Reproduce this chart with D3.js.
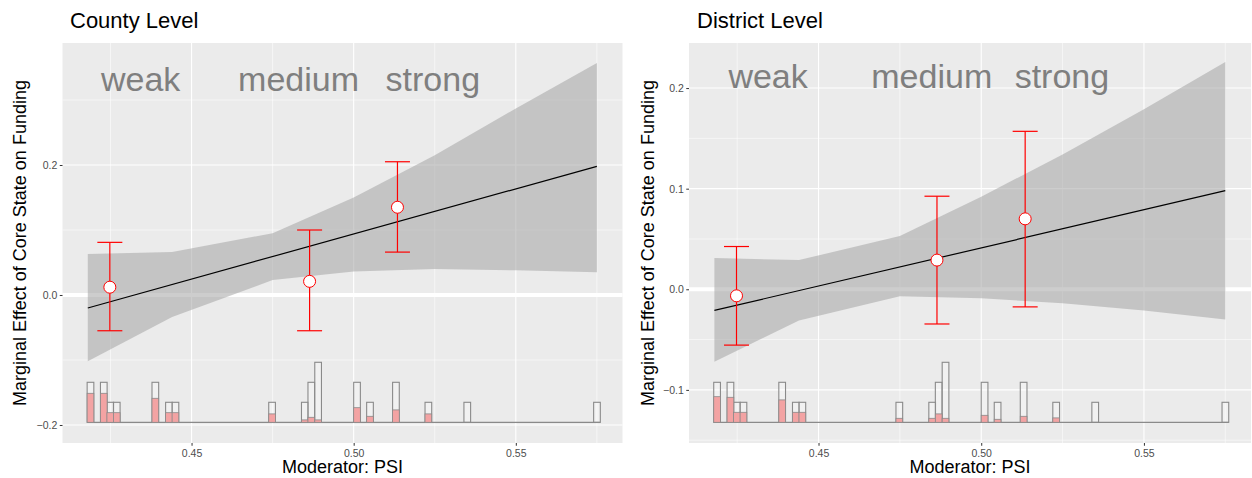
<!DOCTYPE html>
<html>
<head>
<meta charset="utf-8">
<script src="https://cdn.jsdelivr.net/npm/d3@7"></script>
<style>
  body { margin: 0; background: #fff; }
  text { font-family: "Liberation Sans", Arial, Helvetica, sans-serif; }
</style>
</head>
<body>
<script>
// ---- data ----
var xDomain = [0.4102, 0.5829];
var xTicks = [0.45, 0.50, 0.55];
var xMinor = [0.425, 0.475, 0.525, 0.575];

var groups = ["weak", "medium", "strong"];
var groupX = [0.4248, 0.4864, 0.5135];

// fitted line and confidence band
var fitX = [0.418, 0.575];
var bandX = [0.418, 0.444, 0.475, 0.500, 0.525, 0.550, 0.575];

var countyYDomain = [-0.2277, 0.3877];
var countyYTicks = [-0.2, 0.0, 0.2];
var countyYMinor = [-0.1, 0.1, 0.3];
var countyFit = [-0.020, 0.198];
var countyBandUpper = [0.063, 0.066, 0.095, 0.150, 0.215, 0.287, 0.357];
var countyBandLower = [-0.102, -0.034, 0.023, 0.036, 0.040, 0.038, 0.035];
var countyEst = [0.012, 0.021, 0.135];
var countyLow = [-0.055, -0.055, 0.066];
var countyHigh = [0.081, 0.100, 0.205];
var countyLabelX = [0.4343, 0.4830, 0.5244];
var countyLabelY = 0.332;

var districtYDomain = [-0.1528, 0.2448];
var districtYTicks = [-0.1, 0.0, 0.1, 0.2];
var districtYMinor = [-0.15, -0.05, 0.05, 0.15];
var districtFit = [-0.021, 0.098];
var districtBandUpper = [0.031, 0.029, 0.053, 0.092, 0.134, 0.179, 0.226];
var districtBandLower = [-0.072, -0.031, -0.007, -0.009, -0.014, -0.021, -0.030];
var districtEst = [-0.0065, 0.029, 0.070];
var districtLow = [-0.0555, -0.0345, -0.0175];
var districtHigh = [0.0425, 0.0925, 0.157];
var districtLabelX = [0.4345, 0.4848, 0.5248];
var districtLabelY = 0.2115;

// histogram of the moderator (bin starts, counts, treated share)
var binStart = [0.4178, 0.4219, 0.4239, 0.4259, 0.4378, 0.4420, 0.4440, 0.4738, 0.4839,
                0.4859, 0.4880, 0.5000, 0.5040, 0.5120, 0.5220, 0.5340, 0.5740];
var binCount = [2, 2, 1, 1, 2, 1, 1, 1, 1, 2, 3, 2, 1, 2, 1, 1, 1];
var countyTreated = [1.45, 1.45, 0.48, 0.48, 1.2, 0.48, 0.48, 0.42, 0.12, 0.25, 0.12, 0.73, 0.3, 0.62, 0.42, 0, 0];
var districtTreated = [1.28, 1.25, 0.5, 0.5, 1.12, 0.5, 0.5, 0.2, 0.2, 0.42, 0.2, 0.35, 0.15, 0.3, 0.22, 0, 0];
var binWidth = 0.00206;

function init() {
    var w = 1252, h = 478;

    var svg = d3.select("body")
                .append("svg")
                .attr("width", w)
                .attr("height", h);

    drawPanel(svg, {
        left: 62.5, width: 560, title: "County Level", titleX: 70, yTitleX: 26,
        yDomain: countyYDomain, yTicks: countyYTicks, yMinor: countyYMinor,
        fit: countyFit, upper: countyBandUpper, lower: countyBandLower,
        est: countyEst, lo: countyLow, hi: countyHigh, treated: countyTreated,
        labelX: countyLabelX, labelY: countyLabelY
    });

    drawPanel(svg, {
        left: 689, width: 562, title: "District Level", titleX: 697, yTitleX: 654,
        yDomain: districtYDomain, yTicks: districtYTicks, yMinor: districtYMinor,
        fit: districtFit, upper: districtBandUpper, lower: districtBandLower,
        est: districtEst, lo: districtLow, hi: districtHigh, treated: districtTreated,
        labelX: districtLabelX, labelY: districtLabelY
    });
}

function drawPanel(svg, p) {
    var top = 43, ph = 400, pw = p.width;

    var x = d3.scaleLinear().domain(xDomain).range([0, pw]);
    var y = d3.scaleLinear().domain(p.yDomain).range([ph, 0]);
    // histogram counts sit at the bottom of the panel
    var hy = d3.scaleLinear().domain([0, 1]).range([ph - 20.7, ph - 40.7]);

    var g = svg.append("g").attr("transform", "translate(" + p.left + "," + top + ")");

    g.append("rect")
     .attr("width", pw).attr("height", ph)
     .attr("fill", "#ebebeb");

    // grid
    g.selectAll(".xminor").data(xMinor).enter().append("line")
     .attr("x1", d => x(d)).attr("x2", d => x(d))
     .attr("y1", 0).attr("y2", ph)
     .attr("stroke", "#fff").attr("stroke-width", 0.55);
    g.selectAll(".yminor").data(p.yMinor).enter().append("line")
     .attr("x1", 0).attr("x2", pw)
     .attr("y1", d => y(d)).attr("y2", d => y(d))
     .attr("stroke", "#fff").attr("stroke-width", 0.55);
    g.selectAll(".xmajor").data(xTicks).enter().append("line")
     .attr("x1", d => x(d)).attr("x2", d => x(d))
     .attr("y1", 0).attr("y2", ph)
     .attr("stroke", "#fff").attr("stroke-width", 1.1);
    g.selectAll(".ymajor").data(p.yTicks).enter().append("line")
     .attr("x1", 0).attr("x2", pw)
     .attr("y1", d => y(d)).attr("y2", d => y(d))
     .attr("stroke", "#fff").attr("stroke-width", 1.1);

    // zero line
    g.append("line")
     .attr("x1", 0).attr("x2", pw)
     .attr("y1", y(0)).attr("y2", y(0))
     .attr("stroke", "#fff").attr("stroke-width", 4);

    // confidence band
    var band = bandX.map((v, i) => ({x: v, lo: p.lower[i], hi: p.upper[i]}));
    g.append("path")
     .datum(band)
     .attr("d", d3.area().x(d => x(d.x)).y0(d => y(d.lo)).y1(d => y(d.hi)))
     .attr("fill", "#a4a4a4")
     .attr("fill-opacity", 0.55);

    // fitted line
    g.append("path")
     .datum(fitX.map((v, i) => [v, p.fit[i]]))
     .attr("d", d3.line().x(d => x(d[0])).y(d => y(d[1])))
     .attr("fill", "none")
     .attr("stroke", "#000")
     .attr("stroke-width", 1.2);

    // histogram
    g.append("line")
     .attr("x1", x(binStart[0])).attr("x2", x(binStart[binStart.length - 1] + binWidth))
     .attr("y1", hy(0)).attr("y2", hy(0))
     .attr("stroke", "#8a8a8a").attr("stroke-width", 1.2);
    var bins = binStart.map((v, i) => ({x: v, n: binCount[i], t: p.treated[i]}));
    g.selectAll(".bar").data(bins).enter().append("rect")
     .attr("x", d => x(d.x))
     .attr("width", x(xDomain[0] + binWidth) - x(xDomain[0]))
     .attr("y", d => hy(d.n))
     .attr("height", d => hy(0) - hy(d.n))
     .attr("fill", "#ffffff").attr("fill-opacity", 0.3)
     .attr("stroke", "#8a8a8a").attr("stroke-width", 1.1);
    g.selectAll(".treat").data(bins.filter(d => d.t > 0)).enter().append("rect")
     .attr("x", d => x(d.x))
     .attr("width", x(xDomain[0] + binWidth) - x(xDomain[0]))
     .attr("y", d => hy(d.t))
     .attr("height", d => hy(0) - hy(d.t))
     .attr("fill", "#f3a3a3")
     .attr("stroke", "#8a8a8a").attr("stroke-width", 0.8);

    // binned estimates with error bars
    var pts = groups.map((k, i) => ({x: groupX[i], e: p.est[i], lo: p.lo[i], hi: p.hi[i]}));
    var eb = g.selectAll(".eb").data(pts).enter().append("g");
    eb.append("line")
      .attr("x1", d => x(d.x)).attr("x2", d => x(d.x))
      .attr("y1", d => y(d.lo)).attr("y2", d => y(d.hi))
      .attr("stroke", "#ff0000").attr("stroke-width", 1.2);
    eb.append("line")
      .attr("x1", d => x(d.x) - 12.5).attr("x2", d => x(d.x) + 12.5)
      .attr("y1", d => y(d.lo)).attr("y2", d => y(d.lo))
      .attr("stroke", "#ff0000").attr("stroke-width", 1.2);
    eb.append("line")
      .attr("x1", d => x(d.x) - 12.5).attr("x2", d => x(d.x) + 12.5)
      .attr("y1", d => y(d.hi)).attr("y2", d => y(d.hi))
      .attr("stroke", "#ff0000").attr("stroke-width", 1.2);
    eb.append("circle")
      .attr("cx", d => x(d.x)).attr("cy", d => y(d.e))
      .attr("r", 6)
      .attr("fill", "#fff")
      .attr("stroke", "#ff0000").attr("stroke-width", 1);

    // group labels
    g.selectAll(".lab").data(groups).enter().append("text")
     .attr("x", (d, i) => x(p.labelX[i]))
     .attr("y", y(p.labelY))
     .attr("dy", "0.35em")
     .attr("text-anchor", "middle")
     .attr("font-size", 34)
     .attr("fill", "#7f7f7f")
     .text(d => d);

    // axes
    var xAxis = g.append("g")
     .attr("transform", "translate(0," + ph + ")")
     .call(d3.axisBottom(x).tickValues(xTicks).tickFormat(d3.format(".2f")).tickSize(2.75).tickPadding(3.5));
    var yAxis = g.append("g")
     .call(d3.axisLeft(y).tickValues(p.yTicks).tickFormat(d3.format(".1f")).tickSize(2.75).tickPadding(2.5));
    [xAxis, yAxis].forEach(function(a) {
        a.select(".domain").remove();
        a.selectAll(".tick line").attr("stroke", "#333");
        a.selectAll(".tick text")
         .attr("fill", "#4d4d4d")
         .attr("font-size", 10.5)
         .style("font-family", "'Liberation Sans', Arial, sans-serif");
    });

    // titles
    svg.append("text")
       .attr("x", p.titleX).attr("y", 28)
       .attr("font-size", 22)
       .attr("fill", "#000")
       .text(p.title);
    svg.append("text")
       .attr("x", p.left + pw / 2).attr("y", 473)
       .attr("text-anchor", "middle")
       .attr("font-size", 18)
       .text("Moderator: PSI");
    svg.append("text")
       .attr("transform", "translate(" + p.yTitleX + "," + (top + ph / 2) + ") rotate(-90)")
       .attr("text-anchor", "middle")
       .attr("font-size", 18)
       .text("Marginal Effect of Core State on Funding");
}

window.onload = init;
</script>
</body>
</html>
